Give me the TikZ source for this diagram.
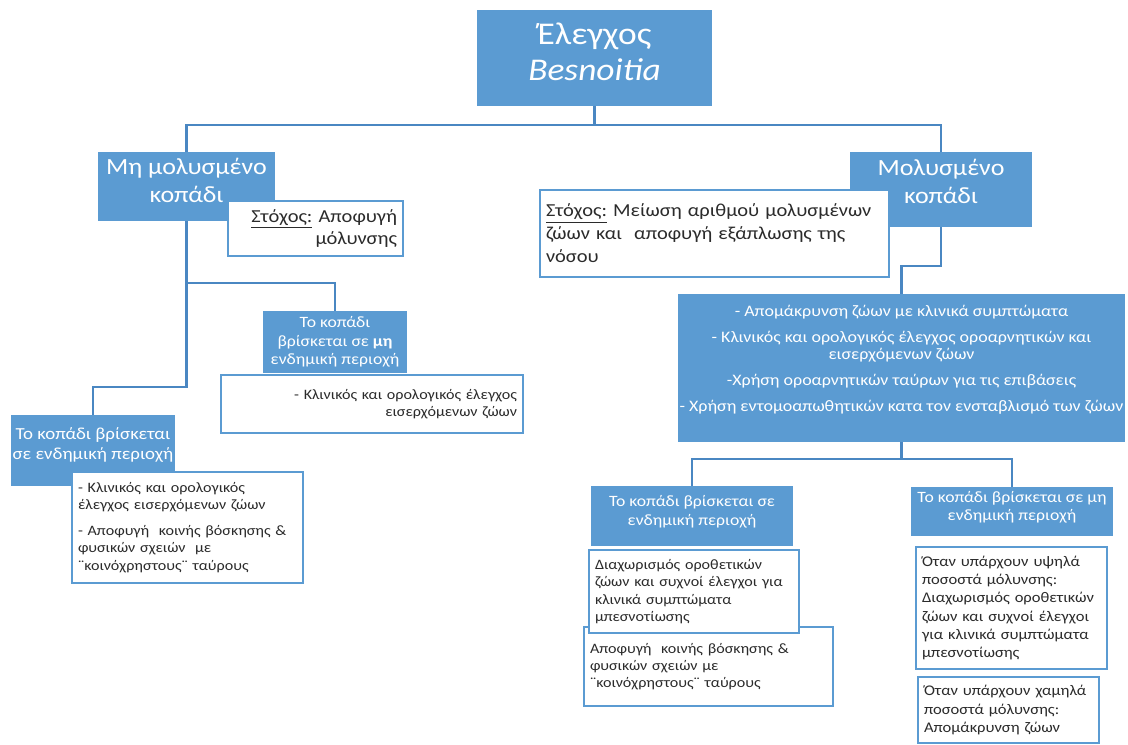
\documentclass[tikz,border=0pt]{standalone}
\usepackage{fontspec}
\setmainfont{Carlito}[FakeStretch=1.12]
\usepackage{tikz}
\usetikzlibrary{positioning,calc}
\definecolor{boxblue}{HTML}{5B9BD2}
\definecolor{linkblue}{HTML}{4A87C2}
\definecolor{txtgray}{HTML}{2B2B2B}
\newcommand{\upx}{0.025cm}
\tikzstyle{hb}=[rectangle,fill=boxblue,text=white,align=center,inner sep=1pt]
\tikzstyle{wb}=[rectangle,draw=boxblue,line width=1.3pt,fill=white,text=txtgray,inner sep=4pt]
\tikzstyle{link}=[draw=linkblue,line width=2.1pt]
\def\fbig{\fontsize{22.5}{26}\selectfont}
\def\fmid{\fontsize{16.5}{20}\selectfont}
\def\faim{\fontsize{13}{16.3}\selectfont}
\def\fsm{\fontsize{11.2}{13}\selectfont}
\def\ftx{\fontsize{10.2}{12.3}\selectfont}

\begin{document}
\begin{tikzpicture}[x=0.025cm,y=-0.025cm]
    \useasboundingbox (0,0) rectangle (1128,744);
    % top level
    \node (root) [hb,minimum width=235*\upx,minimum height=96*\upx,font=\fbig,text depth=9pt] at (594.5,58) {Έλεγχος\\\textit{Besnoitia}};
    \node (clean) [hb,minimum width=177*\upx,minimum height=69*\upx,font=\fmid,text depth=8.5pt] at (186.5,186.5) {Μη μολυσμένο\\κοπάδι};
    \node (infected) [hb,minimum width=182*\upx,minimum height=75*\upx,font=\fmid,text depth=12pt] at (941,189.5) {Μολυσμένο\\κοπάδι};
    \node (aimclean) [wb,text width=163*\upx,align=right,minimum height=55*\upx,font=\faim] at (315.5,228.5) {\underline{Στόχος:} Αποφυγή\\μόλυνσης};
    \node (aiminf) [wb,text width=337*\upx,align=left,minimum height=87*\upx,font=\faim] at (714.5,233.5) {\underline{Στόχος:} Μείωση αριθμού μολυσμένων\\ζώων και \ αποφυγή εξάπλωσης της\\νόσου};

    % non infected herd
    \node (lnon) [hb,minimum width=144*\upx,minimum height=62*\upx,font=\fsm] at (335,342) {Το κοπάδι\\βρίσκεται σε \textbf{μη}\\ενδημική περιοχή};
    \node (lnonctl) [wb,text width=290*\upx,align=right,minimum height=58*\upx,font=\ftx] at (372,404) {- Κλινικός και ορολογικός έλεγχος\\εισερχόμενων ζώων};
    \node (lend) [hb,minimum width=162*\upx,minimum height=71*\upx,font=\fontsize{12}{14.2}\selectfont,text depth=10pt] at (93,450.5) {Το κοπάδι βρίσκεται\\σε ενδημική περιοχή};
    \node (lendctl) [wb,text width=219*\upx,align=left,minimum height=111*\upx,font=\ftx] at (187.5,527.5) {- Κλινικός και ορολογικός\\έλεγχος εισερχόμενων ζώων\\[6pt]- Αποφυγή \ κοινής βόσκησης \&\\φυσικών σχειών \ με\\¨κοινόχρηστους¨ ταύρους};

    % infected herd
    \node (measures) [hb,minimum width=443*\upx,minimum height=148*\upx,font=\fontsize{11.4}{12.3}\selectfont,text depth=14pt] at (901.5,368) {- Απομάκρυνση ζώων με κλινικά συμπτώματα\\[6pt]- Κλινικός και ορολογικός έλεγχος οροαρνητικών και\\εισερχόμενων ζώων\\[6pt]-Χρήση οροαρνητικών ταύρων για τις επιβάσεις\\[6pt]- Χρήση εντομοαπωθητικών κατα τον ενσταβλισμό των ζώων};
    \node (rend) [hb,minimum width=202*\upx,minimum height=60*\upx,font=\fsm,text depth=8pt] at (692,516) {Το κοπάδι βρίσκεται σε\\ενδημική περιοχή};
    \node (rnon) [hb,minimum width=202*\upx,minimum height=49*\upx,font=\fsm,text depth=8pt] at (1012,511.5) {Το κοπάδι βρίσκεται σε μη\\ενδημική περιοχή};
    \node (rendgraz) [wb,text width=237*\upx,align=left,minimum height=79*\upx,font=\ftx] at (708.5,666.5) {Αποφυγή \ κοινής βόσκησης \&\\φυσικών σχειών με\\¨κοινόχρηστους¨ ταύρους};
    \node (rendsep) [wb,text width=198*\upx,align=left,minimum height=83*\upx,font=\ftx] at (694,591.5) {Διαχωρισμός οροθετικών\\ζώων και συχνοί έλεγχοι για\\κλινικά συμπτώματα\\μπεσνοτίωσης};
    \node (rnonhigh) [wb,text width=179*\upx,align=left,minimum height=122*\upx,font=\fontsize{10.5}{13}\selectfont] at (1011.5,608) {Όταν υπάρχουν υψηλά\\ποσοστά μόλυνσης:\\Διαχωρισμός οροθετικών\\ζώων και συχνοί έλεγχοι\\για κλινικά συμπτώματα\\μπεσνοτίωσης};
    \node (rnonlow) [wb,text width=169*\upx,align=left,minimum height=66*\upx,font=\fontsize{10.5}{13}\selectfont] at (1008.5,710) {Όταν υπάρχουν χαμηλά\\ποσοστά μόλυνσης:\\Απομάκρυνση ζώων};

    % links
    \coordinate (jtop) at (594.5,125);
    \coordinate (j1) at (186.5,283);
    \coordinate (j2) at (186.5,387);
    \coordinate (j3) at (941,266);
    \coordinate (j4) at (901.5,459);
    \draw[link] (root) -- (jtop) -| (clean);
    \draw[link] (jtop) -| (infected);
    \draw[link] (clean) -- (j2) -| (lend);
    \draw[link] (j1) -| (lnon);
    \draw[link] (infected) -- (j3) -| (measures);
    \draw[link] (measures) -- (j4) -| (rend);
    \draw[link] (j4) -| (rnon);
\end{tikzpicture}
\end{document}
